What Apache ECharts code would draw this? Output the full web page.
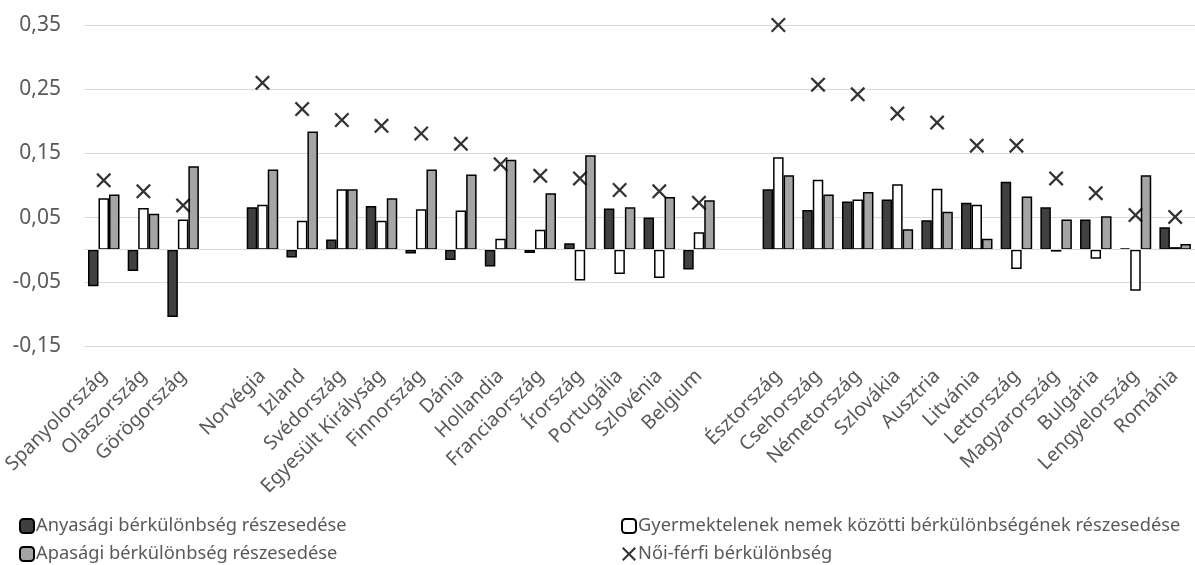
<!DOCTYPE html>
<html><head><meta charset="utf-8">
<script src="https://cdn.jsdelivr.net/npm/echarts@6/dist/echarts.min.js"></script>
<style>html,body{margin:0;padding:0;background:#fff}#c{width:1195px;height:565px}</style>
</head><body><div id="c"></div>
<script>
const categories = ['Spanyolország','Olaszország','Görögország','','Norvégia','Izland','Svédország','Egyesült Királyság','Finnország','Dánia','Hollandia','Franciaország','Írország','Portugália','Szlovénia','Belgium','','Észtország','Csehország','Németország','Szlovákia','Ausztria','Litvánia','Lettország','Magyarország','Bulgária','Lengyelország','Románia'];
const anyasagi = [-0.057,-0.033,-0.105,null,0.066,-0.012,0.016,0.068,-0.006,-0.016,-0.026,-0.005,0.010,0.064,0.050,-0.031,null,0.094,0.062,0.075,0.078,0.046,0.073,0.106,0.066,0.047,0.002,0.035];
const gyermektelen = [0.080,0.065,0.047,null,0.070,0.045,0.094,0.045,0.063,0.061,0.017,0.031,-0.048,-0.038,-0.044,0.027,null,0.144,0.109,0.078,0.102,0.095,0.070,-0.030,-0.003,-0.014,-0.064,0.004];
const apasagi = [0.086,0.056,0.130,null,0.125,0.184,0.094,0.080,0.125,0.117,0.140,0.088,0.147,0.066,0.082,0.077,null,0.116,0.086,0.090,0.032,0.059,0.017,0.083,0.047,0.052,0.116,0.009];
const noiFerfi = [0.108,0.091,0.069,null,0.260,0.219,0.202,0.193,0.181,0.165,0.133,0.115,0.111,0.093,0.091,0.073,null,0.350,0.257,0.242,0.212,0.198,0.162,0.162,0.111,0.088,0.054,0.051];
const seriesNames = ['Anyasági bérkülönbség részesedése','Gyermektelenek nemek közötti bérkülönbségének részesedése','Apasági bérkülönbség részesedése','Női-férfi bérkülönbség'];

const FONT = 'Noto Sans';
const TXT = '#595959';
const xPath = 'path://M0,1.5 L1.5,0 L7,5.5 L12.5,0 L14,1.5 L8.5,7 L14,12.5 L12.5,14 L7,8.5 L1.5,14 L0,12.5 L5.5,7 Z';

const chart = echarts.init(document.getElementById('c'), null, {renderer:'canvas'});
const barBase = {type:'bar', barWidth:10.5, barGap:'0%', itemStyle:{borderColor:'#000', borderWidth:1.5}};
const legendText = {fontFamily:FONT, fontSize:18.3, color:TXT, padding:[0,0,0,-3]};
chart.setOption({
  animation:false,
  textStyle:{fontFamily:FONT},
  grid:{left:83, right:0, top:25, bottom:219, containLabel:false},
  legend:[
    {left:19, top:517, padding:[0,0,0,0], orient:'vertical', itemGap:10, itemWidth:14, itemHeight:14,
     textStyle:legendText, data:[{name:seriesNames[0]},{name:seriesNames[2]}]},
    {left:621, top:517, padding:[0,0,0,0], orient:'vertical', itemGap:10, itemWidth:14, itemHeight:14,
     textStyle:legendText, data:[{name:seriesNames[1]},{name:seriesNames[3], icon:xPath, itemStyle:{color:'#000'}}]}
  ],
  xAxis:{type:'category', data:categories, axisLine:{show:false}, axisTick:{show:false},
    axisLabel:{rotate:45, interval:0, margin:27, color:TXT, fontFamily:FONT, fontSize:19.5}},
  yAxis:{type:'value', min:-0.15, max:0.35, interval:0.1,
    axisLine:{show:false}, axisTick:{show:false},
    splitLine:{lineStyle:{color:'#d9d9d9', width:1.2}},
    axisLabel:{color:TXT, fontFamily:FONT, fontSize:21, margin:23,
      formatter:v=>v.toFixed(2).replace('.',',')}},
  series:[
    Object.assign({}, barBase, {name:seriesNames[0], data:anyasagi, itemStyle:Object.assign({}, barBase.itemStyle, {color:'#404040'}),
      markLine:{silent:true, symbol:'none', label:{show:false}, lineStyle:{color:'#d9d9d9', width:1.2, type:'solid'}, data:[{yAxis:0}]}, z:2}),
    Object.assign({}, barBase, {name:seriesNames[1], data:gyermektelen, itemStyle:Object.assign({}, barBase.itemStyle, {color:'#ffffff'})}),
    Object.assign({}, barBase, {name:seriesNames[2], data:apasagi, itemStyle:Object.assign({}, barBase.itemStyle, {color:'#a5a5a5'})}),
    {type:'scatter', name:seriesNames[3], data:noiFerfi, symbol:xPath, symbolSize:15,
     itemStyle:{color:'#000'}, z:5}
  ]
});
</script></body></html>
